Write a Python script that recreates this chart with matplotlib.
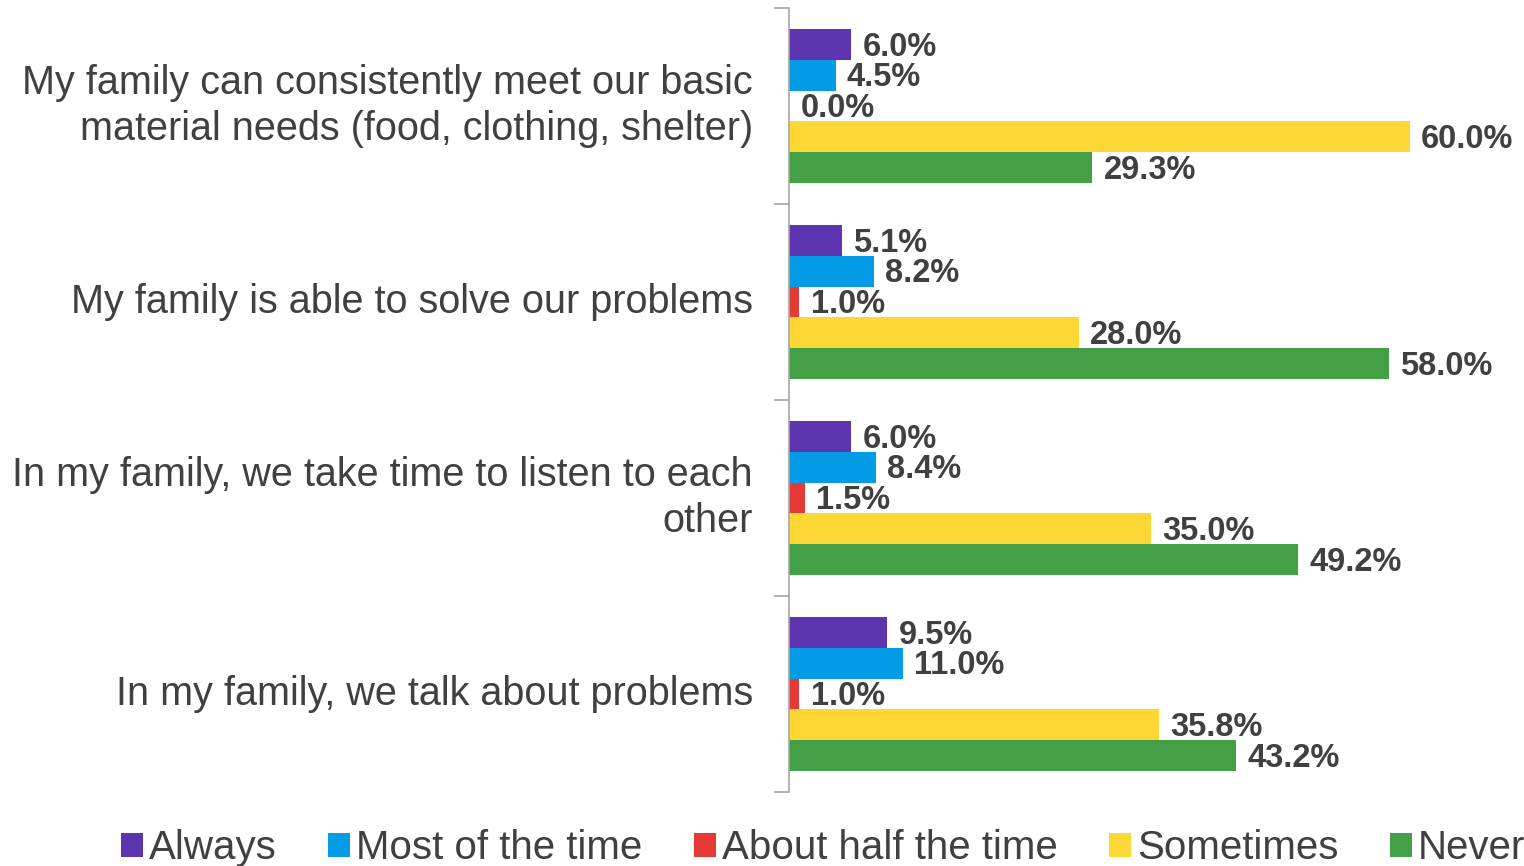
import matplotlib
matplotlib.use('Agg')
import matplotlib.pyplot as plt
import numpy as np

plt.rcParams['font.family'] = ['Liberation Sans', 'DejaVu Sans']

categories = [
    'My family can consistently meet our basic\nmaterial needs (food, clothing, shelter)',
    'My family is able to solve our problems',
    'In my family, we take time to listen to each\nother',
    'In my family, we talk about problems',
]
series = ['Always', 'Most of the time', 'About half the time', 'Sometimes', 'Never']
values = {
    'Always':              [6.0, 5.1, 6.0, 9.5],
    'Most of the time':    [4.5, 8.2, 8.4, 11.0],
    'About half the time': [0.0, 1.0, 1.5, 1.0],
    'Sometimes':           [60.0, 28.0, 35.0, 35.8],
    'Never':               [29.3, 58.0, 49.2, 43.2],
}
colors = ['#5E35B1', '#039BE5', '#E53935', '#FDD835', '#43A047']
text_color = '#404040'

fig = plt.figure(figsize=(15.24, 8.66), dpi=100)
ax = fig.add_axes([789 / 1524, 1 - 792 / 866, (1513 - 789) / 1524, (792 - 8) / 866])

n = len(series)
bh = 0.158
y = np.arange(len(categories))
for j, s in enumerate(series):
    pos = y + (j - (n - 1) / 2) * bh
    ax.barh(pos, values[s], height=bh, color=colors[j], label=s)
    for p, v in zip(pos, values[s]):
        ax.text(v + 1.1, p + 0.015, f'{v:.1f}%', va='center', ha='left',
                fontsize=23.5, fontweight='bold', color=text_color)

ax.set_xlim(0, 70)
ax.set_ylim(len(categories) - 0.5, -0.5)
ax.set_xticks([])
ax.set_yticks(y)
ax.set_yticklabels(categories, fontsize=28.5, color=text_color, ha='right',
                   va='center', linespacing=1.3)
ax.tick_params(axis='y', which='major', length=0, pad=26)
ax.set_yticks(np.arange(len(categories) + 1) - 0.5, minor=True)
ax.tick_params(axis='y', which='minor', length=11, color='#A6A6A6', width=1.2)
for side in ['top', 'right', 'bottom']:
    ax.spines[side].set_visible(False)
ax.spines['left'].set_color('#A6A6A6')
ax.spines['left'].set_linewidth(1.2)

leg = fig.legend(loc='lower center', bbox_to_anchor=(0.540, -0.043), ncol=5,
                 frameon=False, fontsize=29, handlelength=0.55, handleheight=0.55,
                 handletextpad=0.15, columnspacing=1.27, labelcolor=text_color)

fig.savefig('out.png', dpi=100)
